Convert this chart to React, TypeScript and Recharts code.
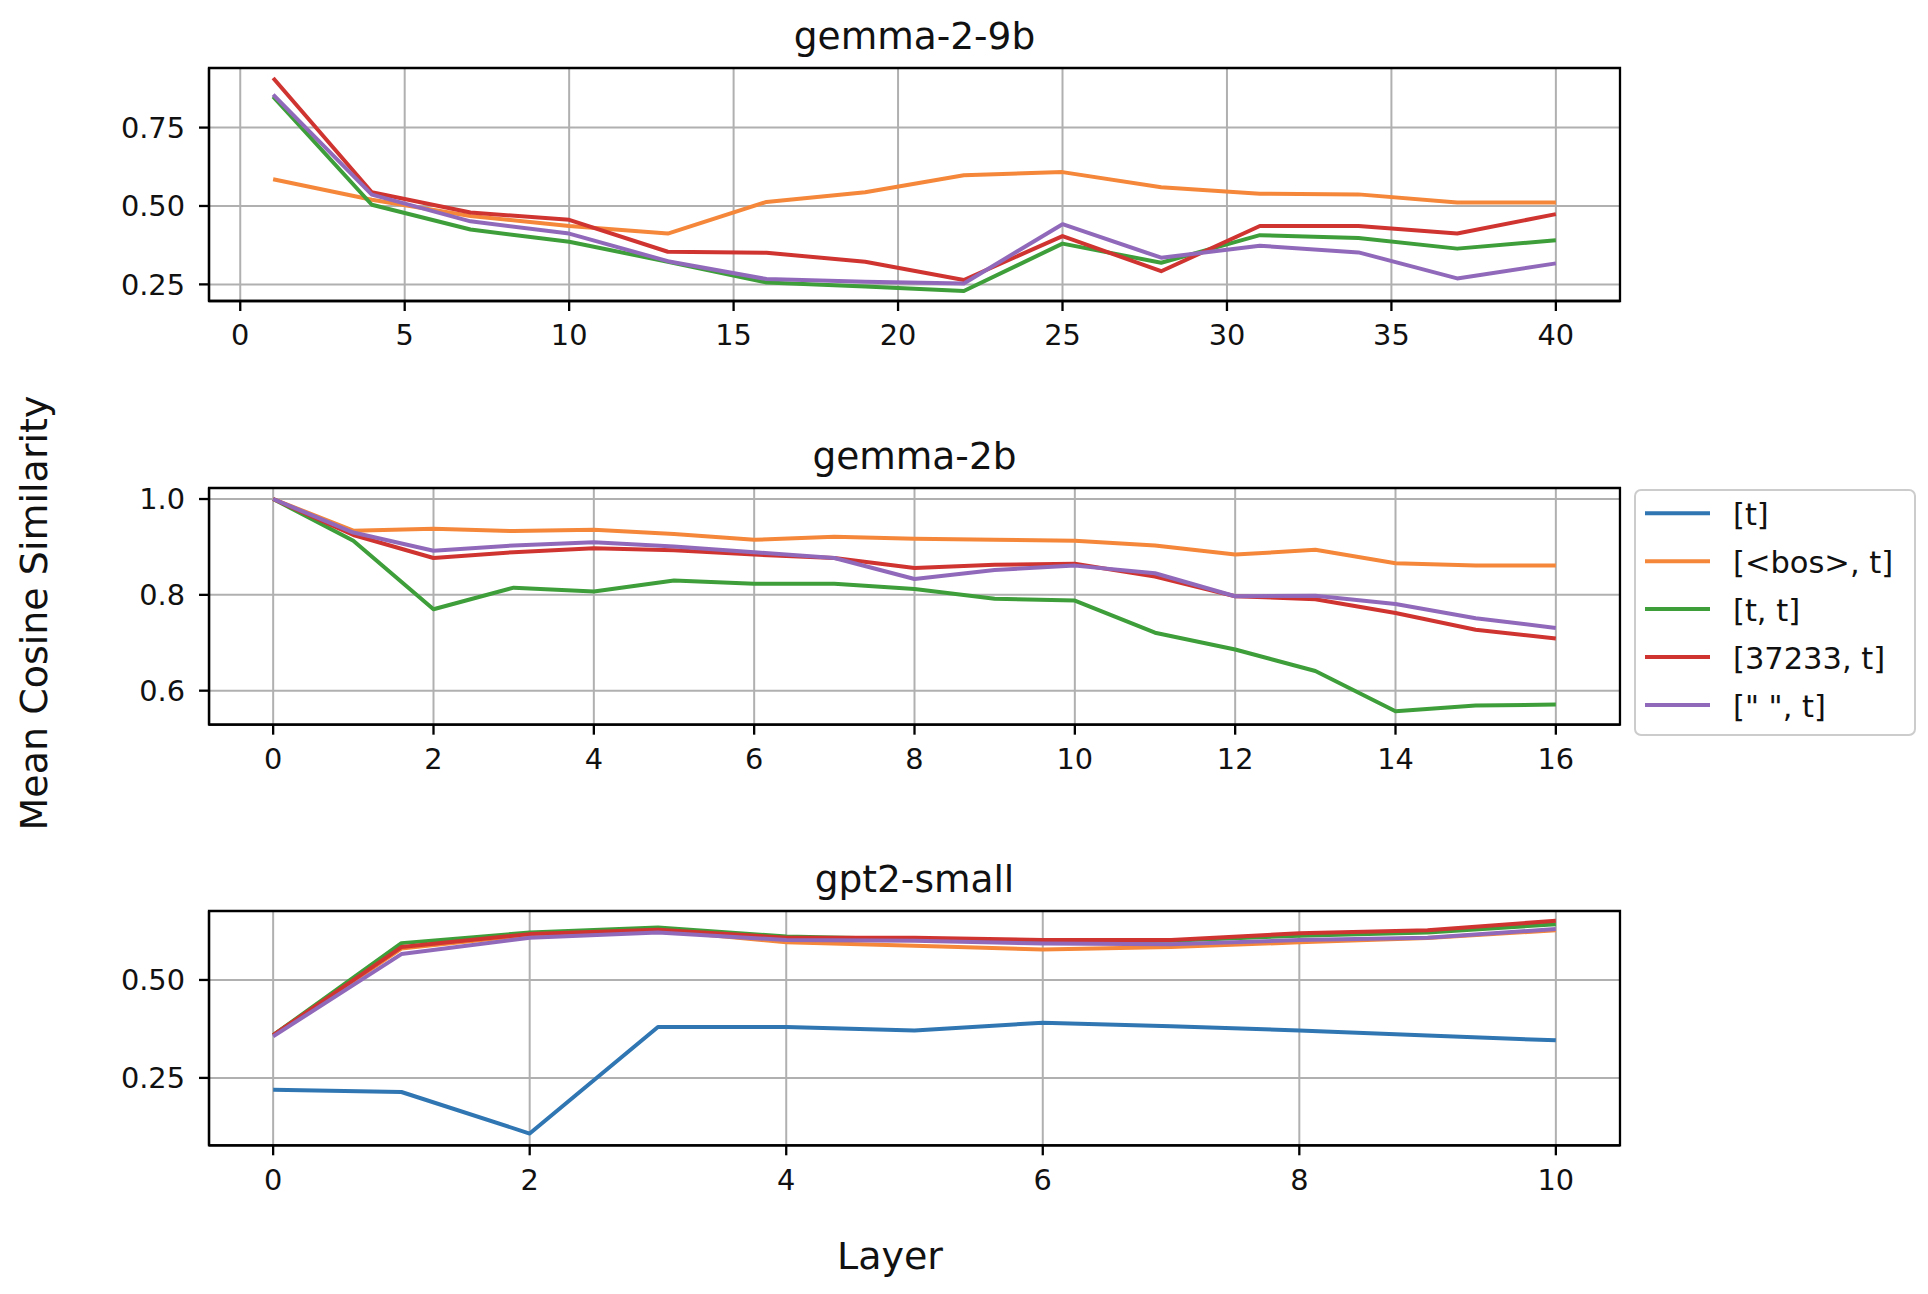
import { LineChart, Line, XAxis, YAxis, CartesianGrid, ReferenceArea } from "recharts";

const FONT = "'DejaVu Sans', sans-serif";

const seriesKeys = ["t", "bos", "tt", "num", "space"];
const seriesNames = ["[t]", "[<bos>, t]", "[t, t]", "[37233, t]", '[" ", t]'];
const seriesColors = ["#2f76b3", "#f5873a", "#3e9e3a", "#cf3431", "#9169bb"];

// gemma-2-9b
const gemma9bLayers = [1, 4, 7, 10, 13, 16, 19, 22, 25, 28, 31, 34, 37, 40];
const gemma9bBos = [0.585, 0.52, 0.468, 0.436, 0.412, 0.513, 0.544, 0.598, 0.608, 0.56, 0.539, 0.537, 0.511, 0.511];
const gemma9bTT = [0.849, 0.504, 0.425, 0.386, 0.322, 0.256, 0.243, 0.229, 0.38, 0.319, 0.407, 0.398, 0.364, 0.391];
const gemma9bNum = [0.908, 0.544, 0.479, 0.456, 0.354, 0.351, 0.322, 0.264, 0.404, 0.292, 0.436, 0.436, 0.412, 0.474];
const gemma9bSpace = [0.855, 0.536, 0.451, 0.412, 0.324, 0.267, 0.258, 0.253, 0.442, 0.335, 0.373, 0.352, 0.269, 0.317];

// gemma-2b
const gemma2bLayers = [0, 1, 2, 3, 4, 5, 6, 7, 8, 9, 10, 11, 12, 13, 14, 15, 16];
const gemma2bBos = [1.0, 0.934, 0.938, 0.933, 0.936, 0.927, 0.915, 0.921, 0.917, 0.915, 0.913, 0.903, 0.884, 0.894, 0.866, 0.861, 0.861];
const gemma2bTT = [1.0, 0.913, 0.77, 0.815, 0.807, 0.83, 0.823, 0.823, 0.812, 0.792, 0.788, 0.721, 0.686, 0.641, 0.557, 0.569, 0.571];
const gemma2bNum = [1.0, 0.925, 0.877, 0.889, 0.897, 0.893, 0.884, 0.877, 0.856, 0.863, 0.865, 0.838, 0.797, 0.791, 0.762, 0.727, 0.709];
const gemma2bSpace = [1.0, 0.93, 0.892, 0.903, 0.91, 0.901, 0.889, 0.877, 0.833, 0.852, 0.861, 0.845, 0.797, 0.798, 0.781, 0.751, 0.731];

// gpt2-small
const gpt2Layers = [0, 1, 2, 3, 4, 5, 6, 7, 8, 9, 10];
const gpt2T = [0.22, 0.214, 0.108, 0.38, 0.38, 0.371, 0.391, 0.382, 0.371, 0.358, 0.346];
const gpt2Bos = [0.359, 0.58, 0.615, 0.627, 0.596, 0.587, 0.578, 0.584, 0.596, 0.607, 0.627];
const gpt2TT = [0.359, 0.594, 0.621, 0.634, 0.611, 0.604, 0.598, 0.6, 0.613, 0.621, 0.642];
const gpt2Num = [0.359, 0.584, 0.617, 0.628, 0.608, 0.608, 0.602, 0.602, 0.619, 0.627, 0.651];
const gpt2Space = [0.356, 0.566, 0.608, 0.621, 0.602, 0.6, 0.593, 0.591, 0.602, 0.608, 0.63];

const toRows = (layers: number[], cols: Record<string, number[]>) =>
  layers.map((layer, i) => {
    const row: Record<string, number> = { layer };
    Object.keys(cols).forEach((k) => (row[k] = cols[k][i]));
    return row;
  });

const panels = [
  {
    title: "gemma-2-9b",
    plotTop: 67.5,
    plotHeight: 233,
    data: toRows(gemma9bLayers, { bos: gemma9bBos, tt: gemma9bTT, num: gemma9bNum, space: gemma9bSpace }),
    xDomain: [-0.95, 41.95],
    xTicks: [0, 5, 10, 15, 20, 25, 30, 35, 40],
    yDomain: [0.197, 0.94],
    yTicks: [0.25, 0.5, 0.75],
    yDigits: 2,
  },
  {
    title: "gemma-2b",
    plotTop: 488.3,
    plotHeight: 236.7,
    data: toRows(gemma2bLayers, { bos: gemma2bBos, tt: gemma2bTT, num: gemma2bNum, space: gemma2bSpace }),
    xDomain: [-0.8, 16.8],
    xTicks: [0, 2, 4, 6, 8, 10, 12, 14, 16],
    yDomain: [0.529, 1.023],
    yTicks: [0.6, 0.8, 1.0],
    yDigits: 1,
  },
  {
    title: "gpt2-small",
    plotTop: 910.7,
    plotHeight: 234.3,
    data: toRows(gpt2Layers, { t: gpt2T, bos: gpt2Bos, tt: gpt2TT, num: gpt2Num, space: gpt2Space }),
    xDomain: [-0.5, 10.5],
    xTicks: [0, 2, 4, 6, 8, 10],
    yDomain: [0.078, 0.676],
    yTicks: [0.25, 0.5],
    yDigits: 2,
  },
];

const PLOT_LEFT = 209;
const PLOT_RIGHT = 1620;
const CHART_W = 1928;
const TOP_PAD = 10;
const XAXIS_H = 70;

const tickStyle = { fill: "#111", fontSize: 28.8, fontFamily: FONT };

const Panel = ({ p }: { p: (typeof panels)[number] }) => {
  const keys = seriesKeys.filter((k) => k in p.data[0]);
  return (
    <div style={{ position: "absolute", left: 0, top: p.plotTop - TOP_PAD }}>
      <LineChart
        width={CHART_W}
        height={TOP_PAD + p.plotHeight + XAXIS_H}
        data={p.data}
        margin={{ top: TOP_PAD, right: CHART_W - PLOT_RIGHT, bottom: 0, left: 0 }}
      >
        <CartesianGrid stroke="#b0b0b0" strokeWidth={2} />
        <XAxis
          dataKey="layer"
          type="number"
          domain={p.xDomain}
          ticks={p.xTicks}
          interval={0}
          allowDataOverflow
          height={XAXIS_H}
          tickSize={10}
          tickMargin={14}
          tick={tickStyle}
          axisLine={{ stroke: "#000", strokeWidth: 2.3 }}
          tickLine={{ stroke: "#000", strokeWidth: 2.3 }}
        />
        <YAxis
          type="number"
          domain={p.yDomain}
          ticks={p.yTicks}
          interval={0}
          allowDataOverflow
          width={PLOT_LEFT}
          tickSize={10}
          tickMargin={14}
          tick={tickStyle}
          tickFormatter={(v: number) => v.toFixed(p.yDigits)}
          axisLine={{ stroke: "#000", strokeWidth: 2.3 }}
          tickLine={{ stroke: "#000", strokeWidth: 2.3 }}
        />
        {keys.map((k) => {
          const i = seriesKeys.indexOf(k);
          return (
            <Line
              key={k}
              dataKey={k}
              name={seriesNames[i]}
              type="linear"
              stroke={seriesColors[i]}
              strokeWidth={4}
              strokeLinejoin="round"
              dot={false}
              activeDot={false}
              isAnimationActive={false}
            />
          );
        })}
        <ReferenceArea
          x1={p.xDomain[0]}
          x2={p.xDomain[1]}
          y1={p.yDomain[0]}
          y2={p.yDomain[1]}
          fill="none"
          stroke="#000"
          strokeWidth={2.3}
          ifOverflow="visible"
        />
      </LineChart>
    </div>
  );
};

const LEGEND_X = 1635;
const LEGEND_Y = 490;
const LEGEND_ROW0 = 513.3;
const LEGEND_PITCH = 47.9;

const Overlay = () => (
  <svg
    width={CHART_W}
    height={1294}
    style={{ position: "absolute", left: 0, top: 0, pointerEvents: "none" }}
    fontFamily={FONT}
  >
    {panels.map((p) => (
      <text key={p.title} x={(PLOT_LEFT + PLOT_RIGHT) / 2} y={p.plotTop - 19} fontSize={37.5} textAnchor="middle" fill="#111">
        {p.title}
      </text>
    ))}
    <text x={47} y={613} fontSize={38} textAnchor="middle" fill="#111" transform="rotate(-90 47 613)">
      Mean Cosine Similarity
    </text>
    <text x={890} y={1269} fontSize={38} textAnchor="middle" fill="#111">
      Layer
    </text>
    <rect x={LEGEND_X} y={LEGEND_Y} width={280} height={245} rx={6} fill="#fff" fillOpacity={0.8} stroke="#cccccc" strokeWidth={2} />
    {seriesNames.map((name, i) => {
      const cy = LEGEND_ROW0 + i * LEGEND_PITCH;
      return (
        <g key={name}>
          <line x1={1645} x2={1710} y1={cy} y2={cy} stroke={seriesColors[i]} strokeWidth={4} />
          <text x={1733} y={cy + 11.7} fontSize={30.5} fill="#111">
            {name}
          </text>
        </g>
      );
    })}
  </svg>
);

export default function App() {
  return (
    <div style={{ position: "absolute", left: 0, top: 0, width: CHART_W, height: 1294, background: "#fff" }}>
      {panels.map((p) => (
        <Panel key={p.title} p={p} />
      ))}
      <Overlay />
    </div>
  );
}
